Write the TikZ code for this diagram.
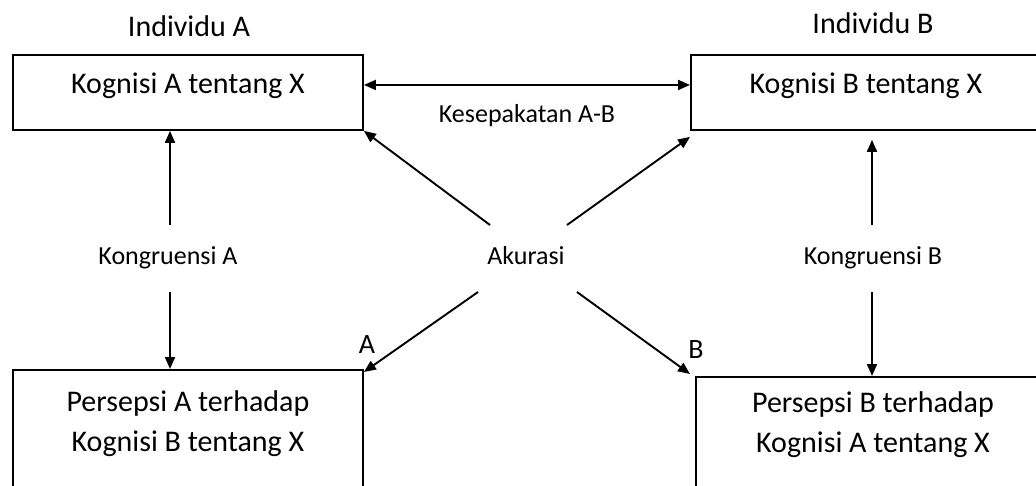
\documentclass[tikz,border=0pt]{standalone}
\usepackage{fontspec}
\setmainfont{Carlito}
\usetikzlibrary{arrows.meta}
\newcommand\diagboxfont{\fontsize{30}{40}\selectfont}
\newcommand\diaglabelfont{\fontsize{26}{30}\selectfont}
\newcommand\diagtagfont{\fontsize{28}{32}\selectfont}
\newcommand\twolines[2]{\begin{tabular}[t]{@{}c@{}}#1\\#2\end{tabular}}
\begin{document}
\begin{tikzpicture}[x=1pt,y=-1pt,
  box/.style={draw, line width=1.9pt, inner sep=0pt, anchor=north west,
              minimum width=350pt, font=\diagboxfont},
  title/.style={anchor=base, inner sep=0pt, font=\diagboxfont},
  lbl/.style={anchor=base, inner sep=0pt, font=\diaglabelfont},
  tag/.style={anchor=base, inner sep=0pt, font=\diagtagfont},
  arr/.style={line width=1.9pt, -{Triangle[length=12pt,width=10pt]}},
  arrboth/.style={line width=1.9pt, {Triangle[length=12pt,width=10pt]}-{Triangle[length=12pt,width=10pt]}}]

\useasboundingbox (0,0) rectangle (1036,486);
\fill[white] (0,0) rectangle (1036,486);
\clip (0,0) rectangle (1036,486);

% cognition boxes (top row)
\node[box, text height=39pt, text depth=36pt] (ka) at (12,54) {Kognisi A tentang X};
\node[box, text height=39pt, text depth=36pt] (kb) at (690,54) {Kognisi B tentang X};

% perception boxes (bottom row, running past the lower edge)
\node[box, text height=41.5pt, text depth=140pt] (pa) at (12,369)
  {\twolines{Persepsi A terhadap}{Kognisi B tentang X}};
\node[box, minimum width=354pt, text height=36pt, text depth=140pt] (pb) at (695,376)
  {\twolines{Persepsi B terhadap}{Kognisi A tentang X}};

% headings and labels
\node[title] (ia) at (189,37) {Individu A};
\node[title] (ib) at (873,34) {Individu B};
\node[lbl] (kes) at (527,123) {Kesepakatan A-B};
\node[lbl] (konga) at (168,265) {Kongruensi A};
\node[lbl] (kongb) at (873,265) {Kongruensi B};
\node[lbl] (aku) at (526,265) {Akurasi};
\node[tag] (ta) at (367,353) {A};
\node[tag] (tb) at (696,358) {B};

% free ends of the connectors
\coordinate (ua) at (170,225);
\coordinate (da) at (170,292);
\coordinate (ub) at (872,225);
\coordinate (db) at (872,292);
\coordinate (d1) at (490,225);
\coordinate (d2) at (567,225);
\coordinate (d3) at (478,292);
\coordinate (d4) at (577,292);

% agreement between A and B
\draw[arrboth] ([yshift=7.5pt]ka.east) -- ([yshift=7.5pt]kb.west);

% congruence
\draw[arr] (ua) -- (ua |- ka.south);
\draw[arr] (da) -- (da |- pa.north);
\draw[arr] (ub) -- ([yshift=-9pt]ub |- kb.south);
\draw[arr] (db) -- (db |- pb.north);

% accuracy
\draw[arr] (d1) -- (ka.south east);
\draw[arr] (d2) -- ([yshift=-6pt]kb.south west);
\draw[arr] (d3) -- ([yshift=-3pt]pa.north east);
\draw[arr] (d4) -- ([xshift=-5pt,yshift=2pt]pb.north west);
\end{tikzpicture}
\end{document}
